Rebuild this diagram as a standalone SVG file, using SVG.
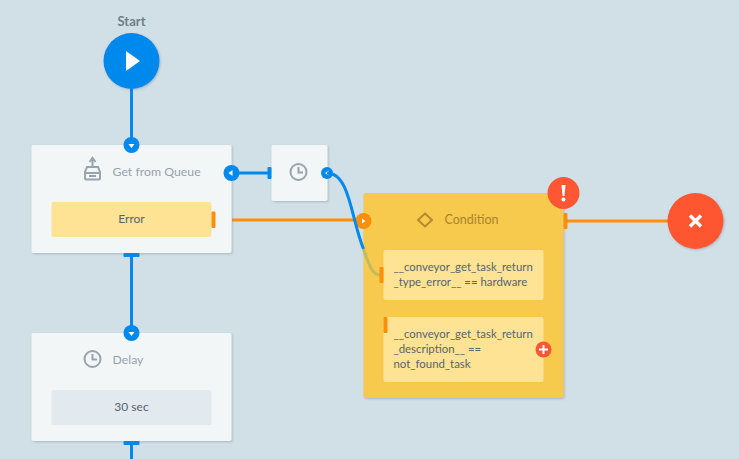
<svg xmlns="http://www.w3.org/2000/svg" width="739" height="459" viewBox="0 0 739 459">
<defs>
<filter id="sh" x="-20%" y="-20%" width="140%" height="140%"><feDropShadow dx="1" dy="1" stdDeviation="1.2" flood-color="#5a7080" flood-opacity="0.35"/></filter>
</defs>
<style>
text{font-family:Lato,"Noto Sans","Liberation Sans",sans-serif;font-size:12px}
.box{fill:#f3f6f7;filter:url(#sh)}
.title{fill:#97a2ac;font-size:12.300px}
.val{fill:#59636b;text-anchor:middle}
.cond{fill:#59636b;font-size:11.400px}
.blue{fill:#0089ec}
.or{fill:#ff8e0a}
.y{fill:#ffe395}
.ln{fill:none;stroke-width:3}
.ic{fill:none;stroke:#97a4ae;stroke-width:2}
.w{fill:#fff}
</style>
<rect width="739" height="459" fill="#d1dfe6"/>
<g id="connectors">
<path class="ln" stroke="#0089ec" d="M131.500 85V140"/>
<path class="ln" stroke="#0089ec" d="M131.500 255V330"/>
<path class="ln" stroke="#0089ec" d="M131.500 441V459"/>
<path class="ln" stroke="#0089ec" d="M236 173H268"/>
<path class="ln" stroke="#ff8e0a" d="M232 220H364"/>
<path class="ln" stroke="#ffe0b8" d="M215 219.500H232"/>
<path class="ln" stroke="#ff8e0a" d="M566 221H670"/>
</g>
<g id="start">
<text x="131.500" y="26" text-anchor="middle" style="font-size:13px;font-weight:700;fill:#6f7f87">Start</text>
<circle cx="131.500" cy="61" r="28" class="blue" filter="url(#sh)"/>
<path class="w" d="M126 51L140 61L126 71Z"/>
</g>
<g id="get-from-queue">
<rect class="box" x="31.500" y="145" width="200" height="108" rx="2"/>
<path d="M92.500 167V160M89.500 162L92.500 158L95.500 162" class="ic" stroke-width="1.500"/>
<path d="M87 167H98L100 172V178.500Q100 179.500 99 179.500H86Q85 179.500 85 178.500V172Z M85 173H100M89 176H96" class="ic"/>
<text class="title" x="112.500" y="176">Get from Queue</text>
<rect class="y" x="51.500" y="202" width="160" height="35" rx="2"/>
<text class="val" x="131.500" y="223">Error</text>
<rect class="or" x="211.500" y="211.500" width="4" height="16.500" rx="1"/>
<rect class="blue" x="123.500" y="253" width="16" height="4" rx="1"/>
<circle class="blue" cx="131.500" cy="145" r="8"/>
<path class="w" d="M128.500 144H134.500L131.500 148Z"/>
<circle class="blue" cx="231.500" cy="173" r="8"/>
<path class="w" d="M232.500 170V176L228.500 173Z"/>
</g>
<g id="timer">
<rect class="box" x="271.500" y="145" width="56" height="56" rx="2"/>
<circle class="ic" cx="298.500" cy="172" r="8"/>
<path class="ic" d="M298.500 167V172.500H303"/>
<rect class="blue" x="267.500" y="167" width="4" height="12" rx="1"/>
<circle class="blue" cx="327" cy="173" r="6"/>
<path class="w" d="M328.500 170.500V175.500L325 173Z"/>
</g>
<g id="condition">
<rect x="363.500" y="193" width="200" height="205" rx="2" fill="#f7c94d" filter="url(#sh)"/>
<path d="M425 213.500L432 220L425 226.500L418 220Z" fill="none" stroke="#b48a2e" stroke-width="2"/>
<text x="444.500" y="224" style="font-size:12.500px;fill:#a8852b">Condition</text>
<rect class="y" x="383.500" y="250" width="160" height="50" rx="2"/>
<path class="ln" stroke="#c3bb62" d="M363.500 249C368 262 372 275 380 275"/>
<text class="cond" x="393.500" y="271">__conveyor_get_task_return</text>
<text class="cond" x="393.500" y="286">_type_error__ == hardware</text>
<rect class="or" x="379.500" y="267" width="4" height="16" rx="1"/>
<rect class="y" x="383.500" y="317" width="160" height="65" rx="2"/>
<text class="cond" x="393.500" y="338">__conveyor_get_task_return</text>
<text class="cond" x="393.500" y="353">_description__ ==</text>
<text class="cond" x="393.500" y="368">not_found_task</text>
<rect class="or" x="383.500" y="317" width="4" height="16" rx="1"/>
<circle cx="543.500" cy="349.500" r="8" fill="#ff5733"/>
<path d="M539 349.500H548M543.500 345V354" stroke="#fff" stroke-width="2" fill="none"/>
<circle cx="363.500" cy="221" r="8" class="or"/>
<path class="w" d="M362 218.500L365.500 221L362 223.500Z"/>
<rect class="or" x="563.500" y="213" width="4" height="16" rx="1"/>
<circle cx="563.500" cy="193" r="16" fill="#ff5733"/>
<path class="w" d="M561.500 185H565.500L564.500 196H562.500Z"/>
<circle class="w" cx="563.500" cy="199.500" r="2"/>
</g>
<g id="connector-overlay">
<path class="ln" stroke="#0089ec" d="M327 173C350 173 351 219 363.500 249"/>
</g>
<g id="end">
<circle cx="695.500" cy="221" r="28" fill="#ff5733" filter="url(#sh)"/>
<path d="M690 215.500L701 226.500M701 215.500L690 226.500" stroke="#fff" stroke-width="3.500" fill="none"/>
</g>
<g id="delay">
<rect class="box" x="31.500" y="333" width="200" height="108" rx="2"/>
<circle class="ic" cx="92.500" cy="359" r="8"/>
<path class="ic" d="M92.500 354V359.500H97"/>
<text class="title" x="112.500" y="364">Delay</text>
<rect x="51.500" y="390" width="160" height="35" rx="2" fill="#e2e9ef"/>
<text class="val" x="131.500" y="411">30 sec</text>
<rect class="blue" x="123.500" y="441" width="16" height="4" rx="1"/>
<circle class="blue" cx="131.500" cy="333" r="8"/>
<path class="w" d="M128.500 332H134.500L131.500 336Z"/>
</g>
</svg>
